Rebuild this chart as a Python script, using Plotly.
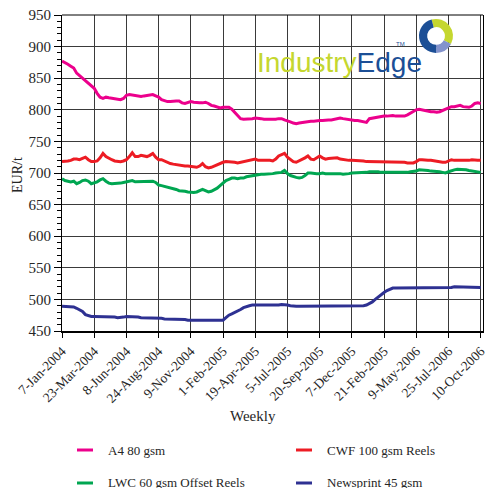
import plotly.graph_objects as go

# ---------------- data ----------------
tick_labels = ["7-Jan-2004", "23-Mar-2004", "8-Jun-2004", "24-Aug-2004", "9-Nov-2004",
               "1-Feb-2005", "19-Apr-2005", "5-Jul-2005", "20-Sep-2005", "7-Dec-2005",
               "21-Feb-2005", "9-May-2006", "25-Jul-2006", "10-Oct-2006"]
tick_weeks = [0, 11, 22, 33, 44, 55, 66, 77, 88, 99, 110, 121, 132, 143]

a4_80 = [877, 875, 872, 869, 866, 858, 854, 850, 846, 842, 838, 834, 826, 820, 818, 820,
         819, 818, 818, 817, 816, 818, 823, 824, 823, 822, 821, 821, 822, 823, 823, 824,
         822, 820, 816, 814, 813, 813, 814, 814, 814, 811, 810, 812, 813, 812, 811, 811,
         811, 812, 810, 807, 806, 804, 803, 804, 804, 804, 801, 796, 791, 786, 785, 785,
         786, 786, 787, 787, 786, 785, 785, 784, 784, 785, 786, 786, 784, 783, 781, 779,
         778, 779, 780, 781, 781, 782, 782, 783, 783, 783, 784, 784, 784, 785, 786, 787,
         786, 785, 785, 784, 783, 783, 782, 781, 780, 786, 787, 788, 789, 790, 790, 790,
         791, 791, 790, 790, 789, 790, 792, 795, 798, 800, 801, 800, 799, 797, 797, 797,
         796, 797, 799, 801, 804, 805, 805, 806, 807, 805, 804, 804, 806, 810, 811, 810]

cwf_100 = [718, 718, 719, 720, 722, 722, 721, 723, 725, 721, 718, 718, 719, 724, 731, 726,
           723, 721, 719, 718, 718, 719, 721, 726, 732, 726, 726, 728, 727, 726, 728, 731,
           725, 721, 721, 719, 716, 715, 714, 713, 712, 712, 711, 711, 710, 709, 709, 711,
           715, 710, 708, 709, 711, 714, 716, 717, 718, 718, 717, 717, 716, 717, 718, 719,
           720, 722, 722, 720, 720, 721, 721, 720, 719, 722, 727, 729, 731, 725, 721, 718,
           717, 719, 721, 724, 727, 722, 721, 724, 727, 724, 722, 723, 723, 723, 724, 722,
           721, 721, 720, 720, 720, 719, 719, 719, 718, 718, 717, 717, 717, 718, 718, 718,
           718, 718, 718, 717, 717, 717, 716, 716, 716, 718, 721, 721, 720, 720, 720, 719,
           718, 718, 717, 717, 719, 721, 720, 720, 719, 720, 720, 720, 721, 720, 720, 720]

lwc_60 = [691, 688, 687, 686, 687, 683, 685, 688, 689, 687, 683, 684, 686, 689, 691, 687,
          684, 683, 683, 684, 684, 685, 686, 687, 688, 686, 686, 686, 687, 686, 686, 687,
          685, 681, 680, 679, 677, 676, 675, 674, 672, 672, 671, 670, 669, 669, 670, 672,
          674, 672, 670, 671, 673, 676, 680, 684, 688, 690, 692, 692, 691, 692, 692, 694,
          695, 696, 697, 697, 698, 698, 698, 699, 699, 700, 700, 701, 704, 699, 696, 694,
          693, 692, 693, 696, 700, 700, 699, 699, 699, 700, 699, 699, 700, 700, 700, 699,
          698, 698, 699, 700, 700, 701, 700, 701, 701, 702, 702, 703, 702, 701, 701, 701,
          700, 700, 700, 701, 701, 701, 701, 702, 702, 703, 705, 705, 704, 704, 703, 703,
          703, 702, 701, 700, 702, 704, 705, 706, 706, 706, 705, 704, 703, 702, 701, 701]

newsprint_45 = [489, 489, 489, 488, 488, 486, 484, 481, 476, 474, 473, 473, 473, 473, 472, 472,
                472, 472, 472, 471, 471, 472, 473, 473, 473, 472, 472, 471, 471, 471, 471, 471,
                470, 470, 470, 469, 469, 469, 469, 468, 468, 468, 468, 467, 467, 467, 467, 467,
                467, 466, 466, 466, 466, 466, 466, 467, 471, 475, 477, 479, 481, 484, 487, 489,
                490, 491, 491, 491, 491, 491, 490, 490, 490, 491, 491, 492, 492, 491, 490, 489,
                489, 489, 489, 490, 490, 490, 490, 490, 490, 490, 490, 489, 490, 490, 490, 489,
                490, 490, 490, 489, 490, 490, 490, 490, 491, 493, 496, 500, 504, 508, 511, 514,
                516, 518, 518, 518, 518, 518, 518, 518, 519, 519, 519, 519, 519, 519, 519, 519,
                518, 518, 518, 518, 519, 519, 520, 520, 520, 520, 520, 520, 520, 519, 519, 519]

series_names = ["A4 80 gsm", "CWF 100 gsm Reels", "LWC 60 gsm Offset Reels", "Newsprint 45 gsm"]
series_values = [a4_80, cwf_100, lwc_60, newsprint_45]
series_colors = ["#ec008c", "#ed1c24", "#00a651", "#2e3192"]

logo_shares = [37, 17, 46]
logo_colors = ["#c5d72f", "#8393cc", "#1c4f96"]

# ---------------- figure ----------------
W, H = 485, 488
ML, MR, MT, MB = 62, 2, 15, 157
PW, PH = W - ML - MR, H - MT - MB

def px_x(p):
    return (p - ML) / PW

def px_y(p):
    return (H - MB - p) / PH

FONT = "Liberation Serif"
TXT = "#262626"
GRID = "#3a3a3a"

fig = go.Figure()
weeks = list(range(len(a4_80)))
for name, vals, col in zip(series_names, series_values, series_colors):
    fig.add_trace(go.Scatter(x=weeks, y=vals, mode="lines", name=name,
                             line=dict(color=col, width=3), showlegend=False,
                             hoverinfo="skip"))

# logo ring
fig.add_trace(go.Pie(values=logo_shares, marker=dict(colors=logo_colors, line=dict(width=0)),
                     hole=0.52, sort=False, direction="clockwise", rotation=-15,
                     textinfo="none", hoverinfo="skip", showlegend=False,
                     domain=dict(x=[px_x(419), px_x(453)], y=[px_y(53), px_y(19)])))

fig.update_layout(
    width=W, height=H,
    margin=dict(l=ML, r=MR, t=MT, b=MB, autoexpand=False),
    paper_bgcolor="white", plot_bgcolor="white",
    font=dict(family=FONT, color=TXT, size=14),
    xaxis=dict(range=[0, 143.8], tickmode="array", tickvals=tick_weeks, ticktext=tick_labels,
               tickangle=-45, tickfont=dict(size=13.5, family=FONT, color=TXT),
               ticklabeloverflow="allow",
               showgrid=True, gridcolor=GRID, gridwidth=1,
               ticks="outside", ticklen=5, tickcolor="black", tickwidth=1,
               showline=True, linecolor="black", linewidth=2, mirror=False, zeroline=False),
    yaxis=dict(range=[450, 950], tickmode="linear", tick0=450, dtick=50,
               tickfont=dict(size=15, family=FONT, color=TXT),
               showgrid=True, gridcolor=GRID, gridwidth=1,
               ticks="outside", ticklen=7, tickcolor="black", tickwidth=1,
               minor=dict(dtick=10, ticks="outside", ticklen=4, tickcolor="black", showgrid=False),
               showline=True, linecolor="black", linewidth=1, mirror=True, zeroline=False),
)

shapes = [dict(type="line", xref="paper", yref="paper", x0=0, x1=1, y0=1, y1=1,
               line=dict(color="black", width=1))]
annotations = [
    dict(text="Weekly", xref="paper", yref="paper", x=px_x(252.5), y=px_y(416),
         showarrow=False, font=dict(size=15, family=FONT, color=TXT), xanchor="center", yanchor="middle"),
    dict(text="EUR/t", xref="paper", yref="paper", x=px_x(17), y=px_y(175), textangle=-90,
         showarrow=False, font=dict(size=14, family=FONT, color=TXT), xanchor="center", yanchor="middle"),
    dict(text="<span style='color:#c5d72f'>Industry</span><span style='color:#1c4f96'>Edge</span>",
         xref="paper", yref="paper", x=px_x(255), y=px_y(62), showarrow=False,
         font=dict(size=28, family="Liberation Sans"), xanchor="left", yanchor="middle"),
    dict(text="TM", xref="paper", yref="paper", x=px_x(394), y=px_y(44), showarrow=False,
         font=dict(size=6, family="Liberation Sans", color="#1c4f96"), xanchor="left", yanchor="middle"),
]

# legend (two columns)
leg_pos = [(77, 450), (296, 450), (77, 483), (296, 483)]
for (lx, ly), name, col in zip(leg_pos, series_names, series_colors):
    shapes.append(dict(type="line", xref="paper", yref="paper",
                       x0=px_x(lx), x1=px_x(lx + 16), y0=px_y(ly), y1=px_y(ly),
                       line=dict(color=col, width=3)))
    annotations.append(dict(text=name, xref="paper", yref="paper", x=px_x(lx + 29), y=px_y(ly),
                            showarrow=False, xanchor="left", yanchor="middle",
                            font=dict(size=13, family=FONT, color=TXT)))

fig.update_layout(shapes=shapes, annotations=annotations)
fig.write_html("out.html")
